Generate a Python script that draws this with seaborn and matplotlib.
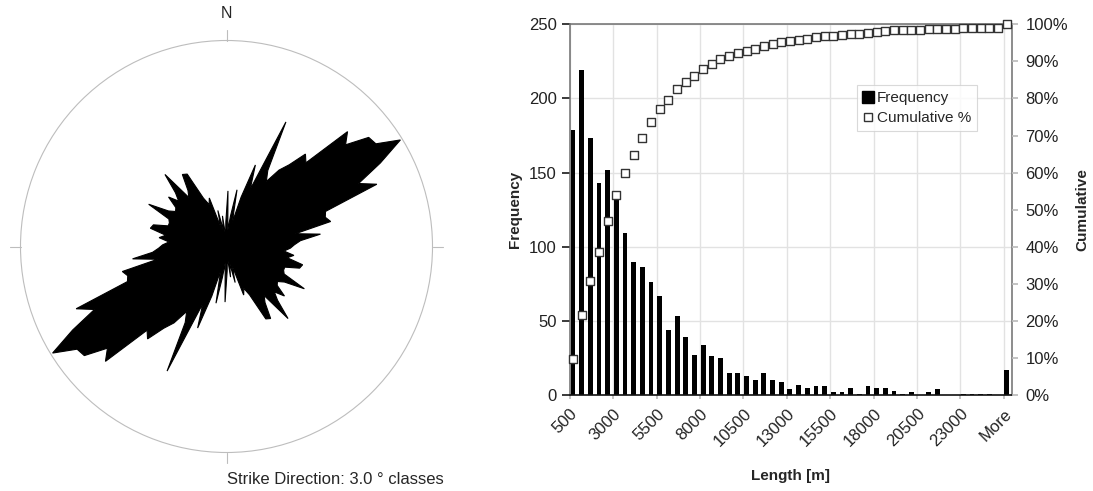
# -*- coding: utf-8 -*-
"""
Rose diagram of strike directions and length histogram with cumulative %
"""

# import libraries
import seaborn as sns
import matplotlib.pyplot as plt
import numpy as np
from matplotlib.lines import Line2D
from matplotlib.ticker import PercentFormatter

# set theme
sns.set_theme(style="whitegrid")
plt.rcParams['font.family'] = ['Liberation Sans', 'DejaVu Sans']

# rose diagram: relative frequency per 3 degree class, 0-180 (mirrored to 360)
rose_class_deg = 3.0
rose_vals = [
    0.27, 0.08, 0.15, 0.28, 0.12, 0.25, 0.42, 0.30, 0.67, 0.42,
    0.37, 0.45, 0.50, 0.59, 0.56, 0.81, 0.76, 0.87, 0.88, 0.99,
    0.85, 0.71, 0.79, 0.51, 0.50, 0.52, 0.34, 0.46, 0.36, 0.33,
    0.31, 0.28, 0.33, 0.30, 0.38, 0.37, 0.30, 0.30, 0.31, 0.43,
    0.33, 0.30, 0.31, 0.37, 0.32, 0.36, 0.46, 0.30, 0.33, 0.41,
    0.40, 0.26, 0.22, 0.25, 0.10, 0.18, 0.08, 0.15, 0.05, 0.12,
]

# length histogram: bins of 500 m plus "More"
bins = [str(500 * (i + 1)) for i in range(50)] + ['More']
freq = [
    179, 219, 173, 143, 152, 133, 109, 90, 86, 76,
    67, 44, 53, 39, 27, 34, 26, 25, 15, 15,
    13, 10, 15, 10, 9, 4, 7, 5, 6, 6,
    2, 2, 5, 1, 6, 5, 5, 3, 1, 2,
    0, 2, 4, 0, 0, 1, 1, 1, 1, 0,
    17,
]
cum_pct = np.cumsum(freq) / np.sum(freq)

fig = plt.figure(figsize=(10.93, 4.91), dpi=100)

# --- rose diagram ---
axr = fig.add_axes([20.5 / 1093, 38.5 / 491, 412 / 1093, 412 / 491],
                   projection='polar')
axr.set_theta_zero_location('N')
axr.set_theta_direction(-1)
centers = np.deg2rad(np.arange(len(rose_vals) * 2) * rose_class_deg
                     + rose_class_deg / 2)
radii = np.array(rose_vals + rose_vals)
axr.fill(np.append(centers, centers[0]), np.append(radii, radii[0]),
         color='black', lw=0.8, edgecolor='black')
axr.set_ylim(0, 1)
axr.grid(False)
axr.set_xticks([])
axr.set_yticks([])
axr.spines['polar'].set_color('#bdbdbd')
axr.spines['polar'].set_linewidth(0.8)
for t in [0, np.pi / 2, np.pi, 3 * np.pi / 2]:
    axr.plot([t, t], [1.0, 1.05], color='#bdbdbd', lw=0.8, clip_on=False)
axr.text(0, 1.13, 'N', ha='center', va='center', fontsize=11.5)
fig.text(227 / 1093, 1 - 480 / 491, 'Strike Direction: 3.0 \u00b0 classes',
         ha='left', va='center', fontsize=12)

# --- histogram ---
ax = fig.add_axes([570 / 1093, 96 / 491, 441.5 / 1093, 370.7 / 491])
sns.barplot(x=bins, y=freq, color='black', width=0.55, saturation=1,
            linewidth=0, ax=ax, zorder=2)
ax.set_xlim(-0.35, 50.55)
ax.set_ylim(0, 250)
ax.set_yticks(range(0, 251, 50))
tick_idx = list(range(0, 51, 5))
ax.set_xticks([i - 0.35 for i in tick_idx])
ax.set_xticklabels([bins[i] for i in tick_idx], rotation=45,
                   ha='right', rotation_mode='anchor')
ax.grid(True, color='#e2e2e2', lw=1)
ax.tick_params(axis='both', labelsize=12, colors='#222222')
ax.tick_params(axis='x', bottom=True, length=3, color='#bbbbbb', pad=5)
ax.set_xlabel('Length [m]', fontweight='bold', fontsize=11, labelpad=14)
ax.set_ylabel('Frequency', fontweight='bold', fontsize=11, labelpad=5)
for s in ['left', 'top', 'right']:
    ax.spines[s].set_color('#6e6e6e')
    ax.spines[s].set_linewidth(1.1)
ax.spines['bottom'].set_color('#111111')
ax.spines['bottom'].set_linewidth(1.2)

ax2 = ax.twinx()
sns.scatterplot(x=np.arange(len(bins)), y=cum_pct, marker='s', s=34,
                color='white', edgecolor='#333333', linewidth=1,
                ax=ax2, zorder=3, clip_on=False)
ax2.set_ylim(0, 1)
ax2.set_yticks(np.linspace(0, 1, 11))
ax2.yaxis.set_major_formatter(PercentFormatter(1.0, decimals=0))
ax2.grid(False)
ax2.tick_params(axis='y', right=True, length=4, color='#bbbbbb',
                labelcolor='#222222', labelsize=12, pad=6)
ax2.set_ylabel('Cumulative', fontweight='bold', fontsize=11, labelpad=5)
for s in ['left', 'top', 'right', 'bottom']:
    ax2.spines[s].set_visible(False)

handles = [
    Line2D([], [], marker='s', ls='none', color='black', markersize=8),
    Line2D([], [], marker='s', ls='none', markerfacecolor='white',
           markeredgecolor='#333333', markersize=6),
]
leg = ax2.legend(handles, ['Frequency', 'Cumulative %'], loc='upper left',
                 bbox_to_anchor=(0.65, 0.836), fontsize=11, frameon=True,
                 fancybox=False, handlelength=0.6, handletextpad=0.3,
                 borderpad=0.4, labelspacing=0.4, borderaxespad=0)
leg.get_frame().set_edgecolor('#d0d0d0')
leg.get_frame().set_linewidth(0.8)

plt.savefig('out.png', dpi=100)
